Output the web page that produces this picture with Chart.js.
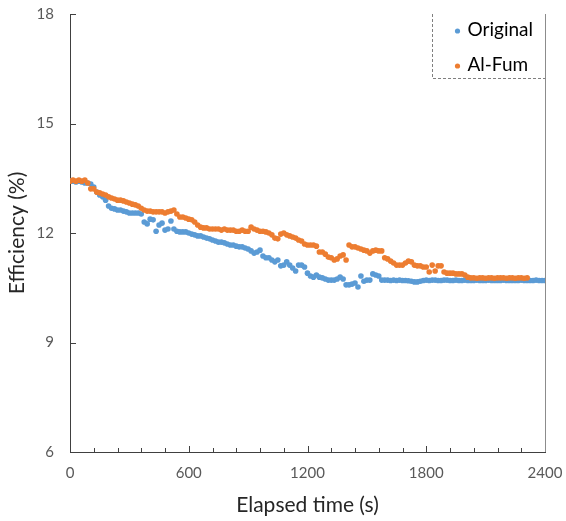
<!DOCTYPE html>
<html>
<head>
<meta charset="utf-8">
<title>Efficiency vs elapsed time</title>
<script src="https://cdn.jsdelivr.net/npm/chart.js@4.4.1/dist/chart.umd.min.js"></script>
<style>
  html, body { margin: 0; padding: 0; background: #fff; }
  canvas { display: block; }
</style>
</head>
<body>
<canvas id="effChart" width="566" height="521"></canvas>
<script>
// readings were logged every 15 s
const sampleInterval = 15;

// Original device efficiency (%)
const originalValues = [
  13.42, 13.42, 13.40, 13.42, 13.40, 13.37, 13.37, 13.34, 13.26, 13.12,
  13.04, 12.99, 12.90, 12.74, 12.68, 12.66, 12.63, 12.63, 12.60, 12.58,
  12.55, 12.55, 12.55, 12.55, 12.52, 12.30, 12.25, 12.38, 12.36, 12.05,
  12.22, 12.27, 12.08, 12.11, 12.33, 12.11, 12.05, 12.03, 12.03, 12.03,
  12.00, 11.97, 11.95, 11.92, 11.92, 11.89, 11.86, 11.84, 11.81, 11.78,
  11.75, 11.75, 11.73, 11.70, 11.67, 11.67, 11.64, 11.62, 11.62, 11.59,
  11.56, 11.51, 11.45, 11.48, 11.53, 11.37, 11.32, 11.32, 11.26, 11.21,
  11.26, 11.10, 11.12, 11.21, 11.12, 11.04, 10.96, 11.12, 11.12, 11.07,
  10.90, 10.82, 10.79, 10.85, 10.79, 10.77, 10.74, 10.71, 10.71, 10.71,
  10.74, 10.79, 10.74, 10.58, 10.58, 10.60, 10.63, 10.52, 10.82, 10.68,
  10.71, 10.71, 10.88, 10.85, 10.82, 10.71, 10.71, 10.71, 10.70, 10.71,
  10.70, 10.71, 10.70, 10.70, 10.69, 10.68, 10.66, 10.66, 10.68, 10.70,
  10.71, 10.70, 10.71, 10.71, 10.70, 10.70, 10.71, 10.71, 10.70, 10.70,
  10.71, 10.70, 10.70, 10.71, 10.70, 10.70, 10.70, 10.71, 10.70, 10.70,
  10.70, 10.71, 10.70, 10.70, 10.70, 10.70, 10.71, 10.70, 10.70, 10.70,
  10.70, 10.70, 10.71, 10.70, 10.70, 10.70, 10.70, 10.71, 10.70, 10.70, 10.70
];

// Al-Fum device efficiency (%)
const alFumValues = [
  13.42, 13.45, 13.42, 13.45, 13.42, 13.45, 13.37, 13.21, 13.21, 13.12,
  13.10, 13.07, 13.04, 12.99, 12.96, 12.93, 12.90, 12.90, 12.88, 12.85,
  12.82, 12.79, 12.77, 12.74, 12.68, 12.63, 12.60, 12.60, 12.58, 12.58,
  12.58, 12.58, 12.55, 12.58, 12.60, 12.63, 12.52, 12.44, 12.44, 12.41,
  12.38, 12.36, 12.30, 12.22, 12.16, 12.14, 12.14, 12.11, 12.11, 12.11,
  12.11, 12.08, 12.11, 12.08, 12.08, 12.08, 12.05, 12.05, 12.08, 12.05,
  12.05, 12.16, 12.11, 12.08, 12.05, 12.05, 12.03, 12.00, 11.95, 11.86,
  11.84, 11.97, 12.00, 11.95, 11.92, 11.89, 11.86, 11.81, 11.78, 11.70,
  11.67, 11.67, 11.67, 11.64, 11.48, 11.48, 11.42, 11.34, 11.32, 11.26,
  11.29, 11.37, 11.40, 11.26, 11.67, 11.62, 11.62, 11.59, 11.56, 11.53,
  11.51, 11.45, 11.51, 11.53, 11.51, 11.51, 11.32, 11.29, 11.23, 11.18,
  11.12, 11.12, 11.12, 11.18, 11.23, 11.21, 11.12, 11.10, 11.10, 11.07,
  11.07, 10.93, 11.12, 10.96, 11.10, 11.10, 10.93, 10.90, 10.90, 10.90,
  10.88, 10.88, 10.88, 10.85, 10.79, 10.77, 10.77, 10.76, 10.77, 10.77,
  10.76, 10.77, 10.77, 10.76, 10.77, 10.77, 10.77, 10.76, 10.77, 10.77,
  10.76, 10.77, 10.77, 10.76, 10.77
];

const seriesNames = ['Original', 'Al-Fum'];
const xTicks = [0, 600, 1200, 1800, 2400];
const yTicks = [6, 9, 12, 15, 18];
const xMinorTicks = [120, 240, 360, 480, 720, 840, 960, 1080, 1320, 1440, 1560, 1680, 1920, 2040, 2160, 2280];

const blue = '#5B9BD5';
const orange = '#ED7D31';
const axisColor = '#404040';
const labelColor = '#595959';

Chart.defaults.font.family = 'Lato, "Open Sans", sans-serif';

// turn readings into {x, y} points
function toPoints(values) {
  return values.map((v, i) => ({ x: i * sampleInterval, y: v }));
}

// inward tick marks + grey right-hand frame line
const framePlugin = {
  id: 'frame',
  beforeDatasetsDraw(chart) {
    const { ctx, chartArea: a, scales: { x, y } } = chart;
    ctx.save();
    ctx.strokeStyle = axisColor;
    ctx.lineWidth = 1;
    ctx.beginPath();
    xTicks.forEach(t => {
      const px = Math.round(x.getPixelForValue(t)) + 0.5;
      ctx.moveTo(px, a.bottom);
      ctx.lineTo(px, a.bottom - 6);
    });
    xMinorTicks.forEach(t => {
      const px = Math.round(x.getPixelForValue(t)) + 0.5;
      ctx.moveTo(px, a.bottom);
      ctx.lineTo(px, a.bottom - 4);
    });
    yTicks.forEach(v => {
      const py = Math.round(y.getPixelForValue(v)) + 0.5;
      ctx.moveTo(a.left, py);
      ctx.lineTo(a.left + 6, py);
    });
    ctx.stroke();

    ctx.strokeStyle = '#8c8c8c';
    ctx.beginPath();
    ctx.moveTo(Math.round(a.right) + 0.5, a.top);
    ctx.lineTo(Math.round(a.right) + 0.5, a.bottom);
    ctx.stroke();
    ctx.restore();
  }
};

// legend box in the top right corner of the plot, dashed on left and bottom
const legendPlugin = {
  id: 'cornerLegend',
  afterDraw(chart) {
    const { ctx, chartArea: a } = chart;
    const left = Math.round(a.right - 113) + 0.5;
    const bottom = Math.round(a.top + 64) + 0.5;
    ctx.save();
    ctx.strokeStyle = '#7f7f7f';
    ctx.lineWidth = 1;
    ctx.setLineDash([3, 2]);
    ctx.beginPath();
    ctx.moveTo(left, a.top);
    ctx.lineTo(left, bottom);
    ctx.lineTo(a.right, bottom);
    ctx.stroke();
    ctx.setLineDash([]);

    const colors = [blue, orange];
    const rows = [a.top + 16, a.top + 51];
    ctx.font = '19px Lato, "Open Sans", sans-serif';
    ctx.textBaseline = 'middle';
    ctx.textAlign = 'left';
    seriesNames.forEach((name, i) => {
      ctx.fillStyle = colors[i];
      ctx.beginPath();
      ctx.arc(left + 25, rows[i] + 1, 2.6, 0, Math.PI * 2);
      ctx.fill();
      ctx.fillStyle = '#000';
      ctx.fillText(name, left + 35, rows[i]);
    });
    ctx.restore();
  }
};

const ctx = document.getElementById('effChart').getContext('2d');
new Chart(ctx, {
  type: 'scatter',
  data: {
    datasets: [
      {
        label: seriesNames[0],
        data: toPoints(originalValues),
        backgroundColor: blue,
        borderWidth: 0,
        pointRadius: 2.8,
        order: 1
      },
      {
        label: seriesNames[1],
        data: toPoints(alFumValues),
        backgroundColor: orange,
        borderWidth: 0,
        pointRadius: 2.8,
        order: 0
      }
    ]
  },
  options: {
    responsive: false,
    animation: false,
    layout: { padding: { top: 14, right: 21, left: 0, bottom: 0 } },
    plugins: {
      legend: { display: false },
      tooltip: { enabled: false }
    },
    scales: {
      x: {
        type: 'linear',
        min: 0,
        max: 2400,
        // fixed axis box so the plot edges line up with the original figure
        afterFit: s => { s.height = 69; s.paddingLeft = 0; s.paddingRight = 0; },
        afterBuildTicks: s => { s.ticks = xTicks.map(v => ({ value: v })); },
        ticks: { padding: 12, color: labelColor, font: { size: 15 }, callback: v => String(v) },
        grid: { display: false, drawTicks: false },
        border: { color: axisColor, width: 1 },
        title: {
          display: true,
          text: 'Elapsed time (s)',
          color: '#262626',
          font: { size: 21 },
          padding: { top: 0, bottom: 3 }
        }
      },
      y: {
        min: 6,
        max: 18,
        afterFit: s => { s.width = 70; s.paddingTop = 0; s.paddingBottom = 0; },
        afterBuildTicks: s => { s.ticks = yTicks.map(v => ({ value: v })); },
        ticks: { padding: 16, color: labelColor, font: { size: 15 }, callback: v => String(v) },
        grid: { display: false, drawTicks: false },
        border: { color: axisColor, width: 1 },
        title: {
          display: true,
          text: 'Efficiency (%)',
          color: '#262626',
          font: { size: 21 },
          padding: { top: 5, bottom: 0 }
        }
      }
    }
  },
  plugins: [framePlugin, legendPlugin]
});
</script>
</body>
</html>
